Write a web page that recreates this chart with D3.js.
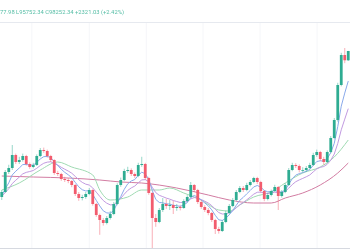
<!DOCTYPE html>
<html>
<head>
    <title>Candles</title>
    <script src="https://cdn.jsdelivr.net/npm/d3@7"></script>
    <style>
        body { margin: 0; background: #fff; }
    </style>
</head>
<body>
    <svg width="350" height="250" id="mainsvg"></svg>
    <script>
        // price data in thousands (one candle per slot)
        const firstOpen = 61.75;
        const closes = [63, 68, 69, 72.25, 70.5, 71, 72, 70, 69.25, 69.75,
            72, 73.5, 73.25, 72, 71, 67.75, 67.5, 66.25, 66, 65.75,
            64.75, 62.5, 61.5, 61.75, 62.5, 63.5, 60, 57.25, 56, 55.25,
            56.5, 57.5, 60, 64.75, 66, 68.25, 68.5, 67.5, 67, 69.75,
            70, 66.5, 62.75, 56.5, 55.5, 58.5, 60, 59.5, 59.75, 59,
            59.25, 59, 60.75, 61.75, 64.75, 63.5, 60.5, 59.25, 58.5, 57.75,
            56, 53.75, 53.25, 55.5, 57.75, 59.5, 61, 63, 64, 63.5,
            64.75, 65.5, 66.5, 65.5, 63.25, 61.25, 62.25, 63.25, 64.25, 62,
            63, 64.75, 68.5, 69.75, 69.5, 68.5, 68.5, 69, 69.75, 72.25,
            73, 71.25, 70.5, 73, 76.5, 81, 89.75, 97.25, 95.93, 98.25];
        const highs = [63.5, 68.5, 69.8, 74.75, 72.6, 71.8, 72.6, 72.3, 70.4, 70.3,
            72.4, 74, 74.1, 73.6, 72.3, 71.2, 68.3, 67.8, 66.8, 66.5,
            66, 65, 63, 62.3, 63, 64, 63.7, 60.3, 57.6, 56.5,
            57, 58.2, 60.5, 65.2, 66.6, 68.8, 69.3, 68.9, 67.9, 70.3,
            71.8, 70.3, 66.8, 63, 57.5, 59, 61.5, 61.3, 61, 60.8,
            60, 59.8, 61.2, 62.2, 65.5, 65, 63.8, 61, 59.7, 59,
            58, 56.3, 54.3, 56, 58.3, 60, 61.5, 63.5, 64.5, 64.5,
            65.3, 66, 66.8, 66.8, 65.8, 63.5, 62.8, 63.6, 64.8, 64.5,
            63.5, 65.2, 69, 70.3, 70.2, 69.9, 69.2, 69.5, 70.3, 72.8,
            73.6, 73.3, 71.8, 73.4, 77, 81.5, 90.3, 97.8, 99, 98.28];
        const lows = [61, 62.8, 67.5, 68.5, 70, 70, 70.6, 69.6, 68.8, 68.9,
            69.5, 71.7, 72.8, 71.6, 70.5, 67.3, 67, 65.8, 65.5, 65.2,
            64.2, 62, 60.8, 60.9, 61.3, 62.2, 59.6, 56.8, 52.3, 54.6,
            54.9, 56.1, 57.2, 59.7, 64.3, 65.7, 67.8, 67, 66.5, 66.7,
            69.3, 66, 62.3, 49, 54.3, 55.2, 58, 58.8, 58.5, 57.5,
            58.3, 58.4, 58.8, 60.4, 61.5, 63, 60, 58.8, 58, 57.2,
            55.5, 52.5, 52.6, 53, 55.2, 57.4, 59.2, 60.7, 62.7, 63,
            63.2, 64.4, 65.2, 65, 62.8, 60.7, 60.9, 61.9, 63, 58.5,
            61.6, 62.7, 64.5, 68.2, 69, 67.9, 67.9, 68, 68.7, 69.5,
            71.8, 70.8, 69.8, 70.2, 72.7, 76.2, 80.6, 89.4, 95.2, 95.75];

        // slower averages: [candle index, value]
        const maGreen = [[0, 63.5], [5, 65.25], [11, 68.5], [16, 70.5], [20, 69.25], [26, 67.25],
            [28, 63.5], [31, 61], [36, 61.75], [40, 63.5], [45, 63.5], [48, 64], [52, 62.75],
            [57, 61], [62, 58.5], [65, 58.25], [68, 59.75], [72, 61.75], [77, 63], [81, 65.25],
            [86, 67.75], [91, 69.25], [95, 71.75], [99, 76]];
        const maPink = [[0, 67], [9, 66.75], [19, 66.5], [28, 66], [34, 65.5], [40, 65.25],
            [50, 64], [59, 62.25], [65, 61], [72, 60.25], [77, 60.25], [81, 61.5], [86, 62.75],
            [91, 64.75], [96, 67.75], [99, 70.25]];
        const gridIdx = [8.6, 25, 41.3, 57.5, 73.8, 90.1];
        const headerText = '77.98 L95752.34 C98252.34 +2321.03 (+2.42%)';

        const candles = closes.map((c, i) => ({
            i, open: i ? closes[i - 1] : firstOpen, close: c, high: highs[i], low: lows[i]
        }));

        const ema = (n) => {
            const k = 2 / (n + 1);
            let prev = firstOpen;
            return closes.map((c, i) => { prev = prev + k * (c - prev); return [i, prev]; });
        };

        const svg = d3.select('svg');
        const x = d3.scaleLinear().domain([0, 99]).range([1.75, 348.25]);
        const y = d3.scaleLinear().domain([49, 99]).range([248, 48]);
        const up = '#2eac92', down = '#f25b6e';

        // soften everything a little, the reference is a scaled-down screenshot
        svg.append('defs').append('filter').attr('id', 'soft')
            .append('feGaussianBlur').attr('stdDeviation', 0.3);
        const g = svg.append('g').attr('filter', 'url(#soft)');

        g.selectAll('.vgrid').data(gridIdx).join('line').attr('class', 'vgrid')
            .attr('x1', d => x(d)).attr('x2', d => x(d)).attr('y1', 22).attr('y2', 248)
            .attr('stroke', '#f5f6f9').attr('stroke-width', 1);
        g.append('line').attr('x1', 0).attr('x2', 350).attr('y1', 22.5).attr('y2', 22.5)
            .attr('stroke', '#e6e9ef');
        g.append('line').attr('x1', 0).attr('x2', 350).attr('y1', 248.5).attr('y2', 248.5)
            .attr('stroke', '#d6d9e0');

        g.append('text').attr('x', 0).attr('y', 14)
            .attr('font-family', 'Roboto, sans-serif').attr('font-size', 5.6)
            .attr('fill', '#55bda5').attr('textLength', 124).attr('lengthAdjust', 'spacingAndGlyphs')
            .text(headerText);

        const line = d3.line().x(d => x(d[0])).y(d => y(d[1]));
        const smooth = d3.line().x(d => x(d[0])).y(d => y(d[1])).curve(d3.curveMonotoneX);

        g.append('path').datum(maPink).attr('d', smooth).attr('fill', 'none')
            .attr('stroke', '#d27ca2').attr('stroke-width', 1);
        g.append('path').datum(maGreen).attr('d', smooth).attr('fill', 'none')
            .attr('stroke', '#9fdab2').attr('stroke-width', 1);
        g.append('path').datum(ema(12)).attr('d', line).attr('fill', 'none')
            .attr('stroke', '#c19ae0').attr('stroke-width', 1);
        g.append('path').datum(ema(6)).attr('d', line).attr('fill', 'none')
            .attr('stroke', '#89a9ea').attr('stroke-width', 1);

        const col = d => d.close >= d.open ? up : down;
        g.selectAll('.wick').data(candles).join('line').attr('class', 'wick')
            .attr('x1', d => x(d.i)).attr('x2', d => x(d.i))
            .attr('y1', d => y(d.high)).attr('y2', d => y(d.low))
            .attr('stroke', col).attr('stroke-width', 0.7).attr('opacity', 0.7);
        g.selectAll('.body').data(candles).join('rect').attr('class', 'body')
            .attr('x', d => x(d.i) - 1.4).attr('width', 2.8)
            .attr('y', d => y(Math.max(d.open, d.close)))
            .attr('height', d => Math.max(0.8, Math.abs(y(d.open) - y(d.close))))
            .attr('fill', col);
    </script>
</body>
</html>
